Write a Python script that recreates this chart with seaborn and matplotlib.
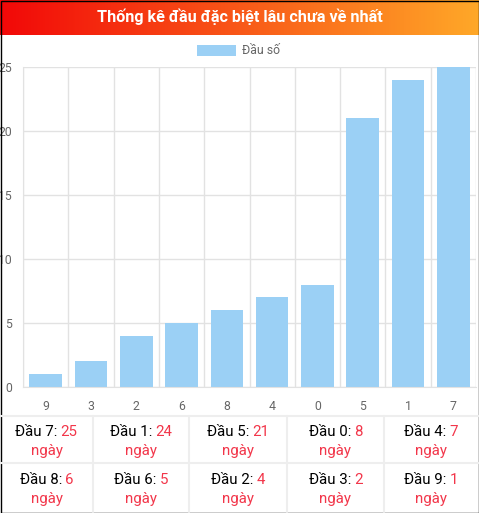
import numpy as np
import matplotlib
matplotlib.use("Agg")
import matplotlib.pyplot as plt
import seaborn as sns
from matplotlib.patches import Rectangle
from matplotlib.lines import Line2D

# data
heads = ["9", "3", "2", "6", "8", "4", "0", "5", "1", "7"]
days = [1, 2, 4, 5, 6, 7, 8, 21, 24, 25]
y_ticks = [0, 5, 10, 15, 20, 25]
title = "Thống kê đầu đặc biệt lâu chưa về nhất"
legend_label = "Đầu số"

W, H = 479, 513
BAR = "#9bd0f5"
GRID = "#e2e2e2"
RED = "#f2364a"

sns.set_style("white")
plt.rcParams["font.family"] = ["Roboto", "DejaVu Sans"]

fig = plt.figure(figsize=(W / 100, H / 100), dpi=100)


def fx(px):
    return px / W


def fy(py):
    return 1 - py / H


# header gradient
hax = fig.add_axes([0, fy(35), 1, 35 / H])
c0 = np.array([242, 8, 8]) / 255
c1 = np.array([255, 168, 40]) / 255
t = np.linspace(0, 1, 256)
grad = (c0[None, :] * (1 - t[:, None]) + c1[None, :] * t[:, None])[None, :, :]
hax.imshow(grad, aspect="auto", extent=[0, 1, 0, 1])
hax.set_axis_off()
fig.text(0.5, fy(17), title, color="white", fontsize=11.6, fontweight="bold",
         ha="center", va="center")

# chart
ax = fig.add_axes([fx(23), fy(387), fx(476) - fx(23), (387 - 67) / H])
sns.barplot(x=heads, y=days, order=heads, color=BAR, saturation=1, width=0.72,
            ax=ax, label=legend_label, edgecolor=BAR, linewidth=0)
ax.set_xlim(-0.5, len(heads) - 0.5)
ax.set_ylim(0, 25)
ax.set_yticks(y_ticks)
ax.set_xticks(range(len(heads)))
ax.set_xticklabels(heads)
ax.set_xticks(np.arange(-0.5, len(heads), 1), minor=True)
ax.grid(False)
ax.grid(True, which="minor", axis="x", color=GRID, lw=1)
ax.grid(True, which="major", axis="y", color=GRID, lw=1)
ax.set_axisbelow(True)
ax.tick_params(axis="x", which="major", length=0, pad=9, labelsize=8.8, labelcolor="#666666")
ax.tick_params(axis="x", which="minor", length=6, color=GRID, width=1)
ax.tick_params(axis="y", length=6, color=GRID, width=1, pad=2, labelsize=8.8,
               labelcolor="#666666")
for s in ["top", "right"]:
    ax.spines[s].set_visible(False)
ax.spines["left"].set_color(GRID)
ax.spines["bottom"].set_color(GRID)
ax.set_xlabel("")
ax.set_ylabel("")

ax.legend(loc="center", bbox_to_anchor=(fx(238.5), fy(51)), bbox_transform=fig.transFigure,
          frameon=False, fontsize=8.8, labelcolor="#666666", handlelength=3.2,
          handleheight=1.0, handletextpad=0.55, borderpad=0)

# table
col_edges = [0, 93, 189, 287, 384, 478]
for y in [416, 463]:
    fig.add_artist(Line2D([0, 1], [fy(y), fy(y)], color="#eeeeee", lw=1.5))
for x in col_edges[1:-1]:
    fig.add_artist(Line2D([fx(x), fx(x)], [fy(416), fy(512)], color="#eeeeee", lw=1.5))

table_order = list(zip(heads, days))[::-1]
renderer = fig.canvas.get_renderer()
lines1 = [436, 484]
lines2 = [455, 503]
FS = 10.8
for i, (h, d) in enumerate(table_order):
    r, c = divmod(i, 5)
    cx = (col_edges[c] + col_edges[c + 1]) / 2
    t1 = fig.text(0, fy(lines1[r]), f"Đầu {h}:", color="black", fontsize=FS, va="baseline")
    t2 = fig.text(0, fy(lines1[r]), str(d), color=RED, fontsize=FS, va="baseline")
    w1 = t1.get_window_extent(renderer).width
    w2 = t2.get_window_extent(renderer).width
    gap = 3
    left = cx - (w1 + gap + w2) / 2
    t1.set_x(fx(left))
    t2.set_x(fx(left + w1 + gap))
    fig.text(fx(cx), fy(lines2[r]), "ngày", color=RED, fontsize=FS, ha="center", va="baseline")

# border
fig.add_artist(Rectangle((0.5 / W, 0.5 / H), 1 - 1 / W, 1 - 1 / H, transform=fig.transFigure,
                         fill=False, edgecolor="black", lw=1.0))

fig.savefig("out.png", dpi=100)
